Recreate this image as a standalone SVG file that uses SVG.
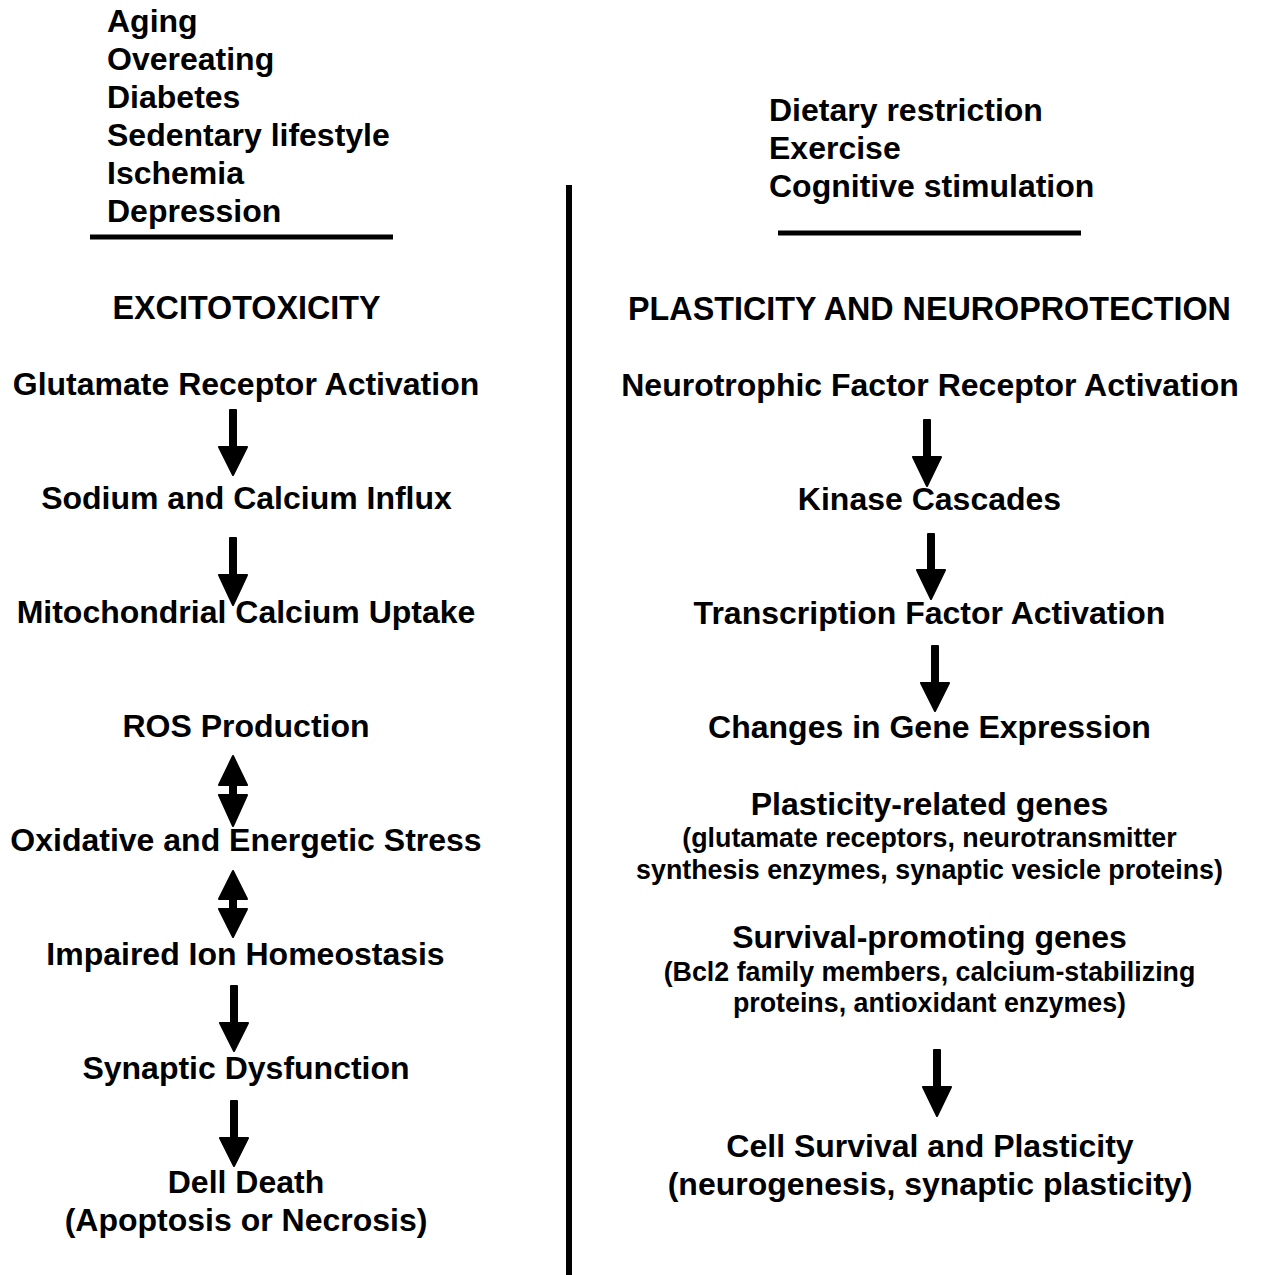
<svg xmlns="http://www.w3.org/2000/svg" width="1261" height="1275" viewBox="0 0 1261 1275">
<style>
text{font-family:"Liberation Sans",Arial,sans-serif;font-weight:bold;fill:#000}
.t{font-size:32px;text-anchor:middle}
.l{font-size:32px}
.h{font-size:32.3px;text-anchor:middle}
.s{font-size:26.8px;text-anchor:middle}
.arr{fill:#000;stroke:#000;stroke-width:2;stroke-linejoin:round}
.rule{stroke:#000;stroke-width:5;fill:none}
</style>
<rect width="1261" height="1275" fill="#fff"/>
<g id="risk-factors">
<text class="l" x="107" y="32">Aging</text>
<text class="l" x="107" y="70">Overeating</text>
<text class="l" x="107" y="108">Diabetes</text>
<text class="l" x="107" y="146">Sedentary lifestyle</text>
<text class="l" x="107" y="184">Ischemia</text>
<text class="l" x="107" y="222">Depression</text>
<line class="rule" x1="90" y1="237" x2="393" y2="237"/>
</g>
<g id="protective-factors">
<text class="l" x="769" y="121">Dietary restriction</text>
<text class="l" x="769" y="159">Exercise</text>
<text class="l" x="769" y="197">Cognitive stimulation</text>
<line class="rule" x1="778" y1="233" x2="1081" y2="233"/>
</g>
<g id="divider"><line class="rule" x1="569" y1="185" x2="569" y2="1275" style="stroke-width:6"/></g>
<g id="heading-left"><text class="h" x="246.5" y="319">EXCITOTOXICITY</text></g>
<g id="heading-right"><text class="h" x="929.5" y="320">PLASTICITY AND NEUROPROTECTION</text></g>
<g id="n-glutamate"><text class="t" x="246" y="395">Glutamate Receptor Activation</text></g>
<g id="n-influx"><text class="t" x="246.5" y="509">Sodium and Calcium Influx</text></g>
<g id="n-mito"><text class="t" x="246" y="623">Mitochondrial Calcium Uptake</text></g>
<g id="n-ros"><text class="t" x="246" y="737">ROS Production</text></g>
<g id="n-oxidative"><text class="t" x="246" y="851">Oxidative and Energetic Stress</text></g>
<g id="n-ion"><text class="t" x="245.5" y="965">Impaired Ion Homeostasis</text></g>
<g id="n-synaptic"><text class="t" x="246" y="1079">Synaptic Dysfunction</text></g>
<g id="n-death"><text class="t" x="246" y="1193">Dell Death</text><text class="t" x="246" y="1231">(Apoptosis or Necrosis)</text></g>
<g id="n-neurotrophic"><text class="t" x="930" y="396">Neurotrophic Factor Receptor Activation</text></g>
<g id="n-kinase"><text class="t" x="929.5" y="510">Kinase Cascades</text></g>
<g id="n-transcription"><text class="t" x="929.5" y="624">Transcription Factor Activation</text></g>
<g id="n-gene"><text class="t" x="929.5" y="738">Changes in Gene Expression</text></g>
<g id="n-plasticity-genes"><text class="t" x="929.5" y="815">Plasticity-related genes</text><text class="s" x="929.5" y="847">(glutamate receptors, neurotransmitter</text><text class="s" x="929.5" y="879">synthesis enzymes, synaptic vesicle proteins)</text></g>
<g id="n-survival-genes"><text class="t" x="929.5" y="948">Survival-promoting genes</text><text class="s" x="929.5" y="981">(Bcl2 family members, calcium-stabilizing</text><text class="s" x="929.5" y="1012">proteins, antioxidant enzymes)</text></g>
<g id="n-cell-survival"><text class="t" x="930" y="1157">Cell Survival and Plasticity</text><text class="t" x="930" y="1195">(neurogenesis, synaptic plasticity)</text></g>
<g id="connectors">
<path class="arr" d="M230,410 H236 V447 H247 L233,475 L219,447 H230 Z"/>
<path class="arr" d="M230,538 H236 V575 H247 L233,605 L219,575 H230 Z"/>
<path class="arr" d="M233,756 L247,785 H236 V795 H247 L233,826 L219,795 H230 V785 H219 Z"/>
<path class="arr" d="M233,871 L247,899 H236 V909 H247 L233,937 L219,909 H230 V899 H219 Z"/>
<path class="arr" d="M231,986 H237 V1023 H248 L234,1051 L220,1023 H231 Z"/>
<path class="arr" d="M231,1101 H237 V1138 H248 L234,1166 L220,1138 H231 Z"/>
<path class="arr" d="M924,420 H930 V457 H941 L927,486 L913,457 H924 Z"/>
<path class="arr" d="M928,534 H934 V570 H945 L931,599 L917,570 H928 Z"/>
<path class="arr" d="M932,646 H938 V683 H949 L935,711 L921,683 H932 Z"/>
<path class="arr" d="M934,1050 H940 V1087 H951 L937,1116 L923,1087 H934 Z"/>
</g>
</svg>
